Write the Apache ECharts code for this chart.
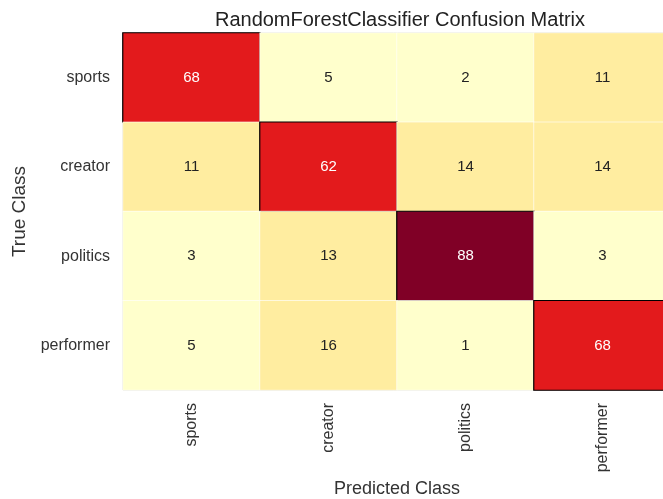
<!DOCTYPE html>
<html>
<head>
<meta charset="utf-8">
<script src="https://cdn.jsdelivr.net/npm/echarts@6/dist/echarts.min.js"></script>
<style>
  html, body { margin: 0; padding: 0; background: #fff; }
  #chart { width: 663px; height: 499px; }
</style>
</head>
<body>
<div id="chart"></div>
<script>
// class names, same order on both axes
const classes = ['sports', 'creator', 'politics', 'performer'];

// rows = true class, columns = predicted class
const sportsRow    = [68, 5, 2, 11];
const creatorRow   = [11, 62, 14, 14];
const politicsRow  = [3, 13, 88, 3];
const performerRow = [5, 16, 1, 68];
const rows = [sportsRow, creatorRow, politicsRow, performerRow];

// YlOrRd, 9 steps
const ylOrRd = ['#ffffcc', '#ffeda0', '#fed976', '#feb24c', '#fd8d3c', '#fc4e2a', '#e31a1c', '#bd0026', '#800026'];
const maxVal = 88;

const font = '"Liberation Sans", Arial, sans-serif';

const data = [];
rows.forEach((row, y) => {
  row.forEach((v, x) => {
    const diag = x === y;
    data.push({
      value: [x, y, v],
      itemStyle: diag
        ? { borderColor: '#000', borderWidth: 1.2 }
        : { borderColor: '#fff', borderWidth: 0.6 },
      label: { color: v > maxVal / 2 ? '#fff' : '#222' }
    });
  });
});

const chart = echarts.init(document.getElementById('chart'));
chart.setOption({
  backgroundColor: '#fff',
  animation: false,
  title: {
    text: 'RandomForestClassifier Confusion Matrix',
    left: 395,
    textAlign: 'center',
    top: 5,
    textStyle: { fontFamily: font, fontSize: 20, fontWeight: 'normal', color: '#222' }
  },
  grid: {
    left: 123,
    top: 33,
    width: 548,
    height: 357,
    outerBoundsMode: 'none',
    show: true,
    borderColor: '#cccccc',
    borderWidth: 1,
    backgroundColor: 'transparent'
  },
  xAxis: {
    type: 'category',
    data: classes,
    name: 'Predicted Class',
    nameLocation: 'middle',
    nameGap: 88,
    nameTextStyle: { fontFamily: font, fontSize: 18, color: '#333' },
    axisLine: { show: false },
    axisTick: { show: false },
    splitLine: { show: false },
    axisLabel: { rotate: 90, margin: 13, fontFamily: font, fontSize: 16, color: '#333' }
  },
  yAxis: {
    type: 'category',
    data: classes,
    inverse: true,
    name: 'True Class',
    nameLocation: 'middle',
    nameGap: 89,
    nameTextStyle: { fontFamily: font, fontSize: 19, color: '#333' },
    axisLine: { show: false },
    axisTick: { show: false },
    splitLine: { show: false },
    axisLabel: { margin: 13, fontFamily: font, fontSize: 16, color: '#333' }
  },
  visualMap: {
    type: 'piecewise',
    show: false,
    min: 0,
    max: maxVal,
    splitNumber: 9,
    dimension: 2,
    inRange: { color: ylOrRd }
  },
  series: [{
    type: 'heatmap',
    data: data,
    label: { show: true, fontFamily: font, fontSize: 15 }
  }]
});
</script>
</body>
</html>
